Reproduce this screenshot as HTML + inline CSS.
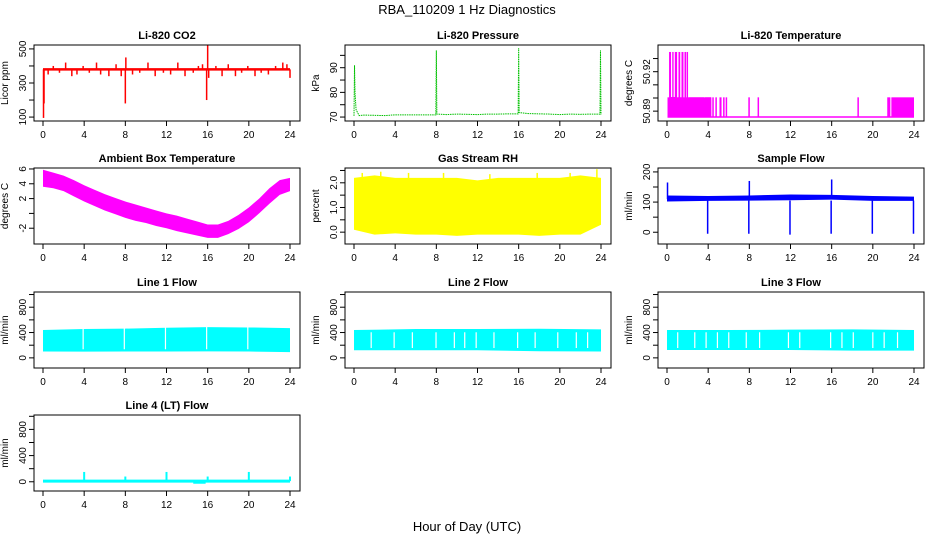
<!DOCTYPE html>
<html><head><meta charset="utf-8">
<style>
html,body{margin:0;padding:0;background:#fff;}
svg{display:block;font-family:"Liberation Sans",sans-serif;}
</style></head>
<body>
<svg id="chart" width="936" height="540" viewBox="0 0 936 540">
<text x="467" y="14" text-anchor="middle" font-size="13">RBA_110209  1 Hz Diagnostics</text>
<text x="467" y="531" text-anchor="middle" font-size="13">Hour of Day (UTC)</text>
</svg>
<script>
// ---- data arrays ----
const xTicks = [0,4,8,12,16,20,24];
// CO2
const co2Base = 380;
const co2SpikeX = [0.05,0.1,0.5,1.0,1.6,2.2,2.8,3.3,3.9,4.5,5.2,5.6,6.4,7.1,7.6,8.0,8.05,8.7,9.4,10.2,10.9,11.7,12.4,13.1,13.8,14.6,15.1,15.5,15.9,16.0,16.1,16.8,17.4,18.0,18.7,19.3,19.9,20.6,21.2,21.9,22.6,23.3,23.7,24.0];
const co2SpikeY = [95,180,350,400,360,420,340,350,400,360,420,350,340,410,340,180,450,350,360,420,340,360,350,420,340,360,400,410,200,520,330,400,340,410,340,360,400,340,360,350,400,420,410,330];
// Pressure
const presX = [0,0.05,0.1,0.2,0.5,1,2,3,4,5,6,7,7.95,8.0,8.05,9,10,11,12,13,14,15,15.95,16.0,16.05,17,18,19,20,21,22,23,23.9,23.95,24.0];
const presY = [70.5,91,80,73,70.6,70.8,70.7,70.6,70.9,70.9,70.9,70.9,70.9,97,71.2,71.0,71.2,71.1,71.0,71.2,71.2,71.3,71.3,98,71.8,71.4,71.3,71.2,71.0,71.2,71.1,71.2,71.2,97,71.0];
// Li-820 temperature: base level and high intervals
const tempBase = 50.8855;
const tempStart = [0.05,0.2,1.1,1.4,1.7,1.9,2.1,3.7,4.4,4.7,5.1,5.45,5.7,7.9,8.8,18.5,21.4,21.8];
const tempEnd   = [3.6,1.0,1.3,1.6,1.8,2.0,4.3,4.3,4.5,4.8,5.3,5.55,5.8,8.05,8.9,18.6,21.7,24.0];
const tempVal   = [50.9005,50.935,50.935,50.935,50.935,50.935,50.9005,50.9005,50.9005,50.9005,50.9005,50.9005,50.9005,50.9005,50.9005,50.9005,50.9005,50.9005];
// Ambient box temperature envelope
const ambX  = [0,1,2,3,4,5,6,7,8,9,10,11,12,13,14,15,16,17,18,19,20,21,22,23,24];
const ambHi = [5.9,5.5,5.1,4.5,3.8,3.2,2.6,2.1,1.6,1.2,0.8,0.4,0,-0.3,-0.7,-1.1,-1.5,-1.5,-1.0,-0.2,0.8,2.0,3.4,4.5,4.8];
const ambLo = [3.6,3.4,3.0,2.3,1.6,1.0,0.4,-0.1,-0.6,-1.0,-1.3,-1.7,-2.0,-2.4,-2.7,-3.0,-3.3,-3.3,-2.8,-2.1,-1.2,0,1.3,2.5,3.0];
// Gas stream RH
const rhX  = [0,2,4,6,8,10,12,14,16,18,20,22,24];
const rhHi = [2.2,2.3,2.2,2.2,2.2,2.2,2.1,2.2,2.2,2.2,2.2,2.3,2.2];
const rhLo = [0.1,-0.1,-0.05,-0.1,-0.1,-0.15,-0.1,-0.1,-0.1,-0.15,-0.1,-0.1,0.3];
// Sample flow
const sfX  = [0,4,8,12,16,20,24];
const sfHi = [122,120,122,125,124,120,118];
const sfLo = [102,104,105,106,108,104,104];
const sfDipX = [3.95,7.95,11.95,15.95,19.95,23.95];
const sfDipY = [-5,-5,-8,-5,-5,-5];
const sfSpikeX = [0.05,8.0,16.0];
const sfSpikeY = [165,170,175];
// Line flows
const l1X=[0,4,8,12,16,20,24], l1Hi=[440,455,462,475,485,480,470], l1Lo=[100,98,100,100,102,100,90];
const l1Gaps=[3.9,7.9,11.9,15.9,19.9];
const l2X=[0,6,12,18,24], l2Hi=[440,455,455,460,450], l2Lo=[120,120,120,105,100];
const l2Gaps=[1.67,3.9,5.67,7.97,9.75,10.76,11.87,13.6,15.9,17.6,19.8,21.6,22.7];
const l3X=[0,6,12,18,24], l3Hi=[440,440,445,450,440], l3Lo=[125,125,125,115,115];
const l3Gaps=[1.04,2.7,3.8,4.9,6.0,7.7,9.0,11.8,12.9,15.9,17.0,18.1,20.0,21.1,22.4];
const l4Base = 10;
const l4SpikeX=[4.0,8.0,12.0,16.0,20.0,24.0];
const l4SpikeY=[150,80,150,80,150,80];
const l4DipStart=14.6, l4DipEnd=15.8, l4DipY=-30;

// ---- helpers ----
const NS="http://www.w3.org/2000/svg";
const svg=document.getElementById('chart');
function mk(tag,attrs,parent){const e=document.createElementNS(NS,tag);for(const k in attrs)e.setAttribute(k,attrs[k]);(parent||svg).appendChild(e);return e;}
const colL=[34,345,658], rowT=[45,168,292,415], BW=266, BH=76;

function panel(c,r,title,ylab,dom,yt,ylbl,name){
  const L=colL[c],T=rowT[r],R=L+BW,B=T+BH;
  const g=mk('g',{});
  
  
  const sx=h=>L+9+(h/24)*(BW-19);
  const sy=v=>B-(v-dom[0])/(dom[1]-dom[0])*BH;
  const t=mk('text',{x:(L+R)/2,y:T-6,'text-anchor':'middle','font-size':11,'font-weight':'bold'},g);t.textContent=title;
  
  
  const yl=mk('text',{transform:`translate(${L-26},${(T+B)/2}) rotate(-90)`,'text-anchor':'middle','font-size':10},g);yl.textContent=ylab;
  
  
  // x axis
  xTicks.forEach(h=>{
    mk('line',{x1:sx(h),x2:sx(h),y1:B,y2:B+5,stroke:'#000'},g);
    const tx=mk('text',{x:sx(h),y:B+17,'text-anchor':'middle','font-size':10},g);tx.textContent=h;
    
    
  });
  yt.forEach((v,i)=>{
    mk('line',{x1:L-5,x2:L,y1:sy(v),y2:sy(v),stroke:'#000'},g);
    if(ylbl[i]!==''){const ty=mk('text',{transform:`translate(${L-8},${sy(v)}) rotate(-90)`,'text-anchor':'middle','font-size':10},g);ty.textContent=ylbl[i];
      
      }
  });
  const data=mk('g',{},g);
  
  
  const box=mk('rect',{x:L,y:T,width:BW,height:BH,fill:'none',stroke:'#000'},g);
  
  
  return {sx,sy,g:data};
}
function band(p,xs,hi,lo,col){
  let d='M'+xs.map((x,i)=>p.sx(x)+','+p.sy(hi[i])).join('L');
  for(let i=xs.length-1;i>=0;i--)d+='L'+p.sx(xs[i])+','+p.sy(lo[i]);
  const e=mk('path',{d:d+'Z',fill:col},p.g);
  
  
}
function vline(p,x,y1,y2,col,w){const e=mk('line',{x1:p.sx(x),x2:p.sx(x),y1:p.sy(y1),y2:p.sy(y2),stroke:col,'stroke-width':w||1.5},p.g);
  
  }
function gap(p,x,dom){const e=mk('line',{x1:p.sx(x),x2:p.sx(x),y1:p.sy(dom[1])+1,y2:p.sy(dom[0])-1,stroke:'#fff','stroke-width':1.2},p.g);
  
  }

// CO2
let d=[77,523],p=panel(0,0,'Li-820 CO2','Licor ppm',d,[100,200,300,400,500],['100','','300','','500'],'co2');
mk('line',{x1:p.sx(0),x2:p.sx(24),y1:p.sy(co2Base),y2:p.sy(co2Base),stroke:'red','stroke-width':2.5},p.g);
co2SpikeX.forEach((x,i)=>vline(p,x,co2Base,co2SpikeY[i],'red',1.5));
// Pressure
d=[68.4,99.2];p=panel(1,0,'Li-820 Pressure','kPa',d,[70,75,80,85,90,95],['70','','80','','90',''],'pressure');
mk('polyline',{points:presX.map((x,i)=>p.sx(x)+','+p.sy(presY[i])).join(' '),fill:'none',stroke:'#00c000','stroke-width':1,'stroke-dasharray':'1.5 0.8'},p.g);
// Temperature
d=[50.8825,50.9403];p=panel(2,0,'Li-820 Temperature','degrees C',d,[50.89,50.90,50.91,50.92,50.93],['50.89','','','50.92',''],'li820-temp');
mk('line',{x1:p.sx(0.05),x2:p.sx(24),y1:p.sy(tempBase),y2:p.sy(tempBase),stroke:'#f0f','stroke-width':1.5},p.g);
tempStart.forEach((s,i)=>{const e=mk('rect',{x:p.sx(s),y:p.sy(tempVal[i]),width:Math.max(1.5,p.sx(tempEnd[i])-p.sx(s)),height:p.sy(tempBase)-p.sy(tempVal[i]),fill:'#f0f'},p.g);
  
  });
[0.45,0.7,1.05,1.35,2.3,2.7,3.1].forEach(x=>gap(p,x,[50.90,50.94]));
// Ambient
d=[-4.13,6.13];p=panel(0,1,'Ambient Box Temperature','degrees C',d,[-2,0,2,4,6],['-2','','2','4','6'],'ambient-temp');
band(p,ambX,ambHi,ambLo,'#f0f');
// RH
d=[-0.48,2.6];p=panel(1,1,'Gas Stream RH','percent',d,[0,0.5,1,1.5,2,2.5],['0.0','','1.0','','2.0',''],'gas-rh');
band(p,rhX,rhHi,rhLo,'#ff0');
[0.8,2.6,5.3,8.7,13.2,17.8,21.0,23.6].forEach((x,i)=>vline(p,x,2.0,[2.4,2.45,2.4,2.4,2.35,2.4,2.4,2.55][i],'#ff0',1.5));
// Sample flow
d=[-39,213];p=panel(2,1,'Sample Flow','ml/min',d,[0,50,100,150,200],['0','','100','','200'],'sample-flow');
band(p,sfX,sfHi,sfLo,'blue');
sfDipX.forEach((x,i)=>vline(p,x,105,sfDipY[i],'blue',1.5));
sfSpikeX.forEach((x,i)=>vline(p,x,110,sfSpikeY[i],'blue',1.5));
// Lines
const fd=[-160,1040],ft=[0,200,400,600,800,1000],fl=['0','','400','','800',''];
p=panel(0,2,'Line 1 Flow','ml/min',fd,ft,fl,'line1-flow');band(p,l1X,l1Hi,l1Lo,'cyan');l1Gaps.forEach(x=>gap(p,x,[l1Lo[0]+20,600]));
p=panel(1,2,'Line 2 Flow','ml/min',fd,ft,fl,'line2-flow');band(p,l2X,l2Hi,l2Lo,'cyan');l2Gaps.forEach(x=>gap(p,x,[140,420]));
p=panel(2,2,'Line 3 Flow','ml/min',fd,ft,fl,'line3-flow');band(p,l3X,l3Hi,l3Lo,'cyan');l3Gaps.forEach(x=>gap(p,x,[140,420]));
p=panel(0,3,'Line 4 (LT) Flow','ml/min',[-141,1020],ft,fl,'line4-flow');
mk('line',{x1:p.sx(0),x2:p.sx(24),y1:p.sy(l4Base),y2:p.sy(l4Base),stroke:'cyan','stroke-width':3},p.g);
mk('rect',{x:p.sx(l4DipStart),y:p.sy(l4Base),width:p.sx(l4DipEnd)-p.sx(l4DipStart),height:p.sy(l4DipY)-p.sy(l4Base),fill:'cyan'},p.g);
l4SpikeX.forEach((x,i)=>vline(p,x,l4Base,l4SpikeY[i],'cyan',2));
</script>
</body></html>
